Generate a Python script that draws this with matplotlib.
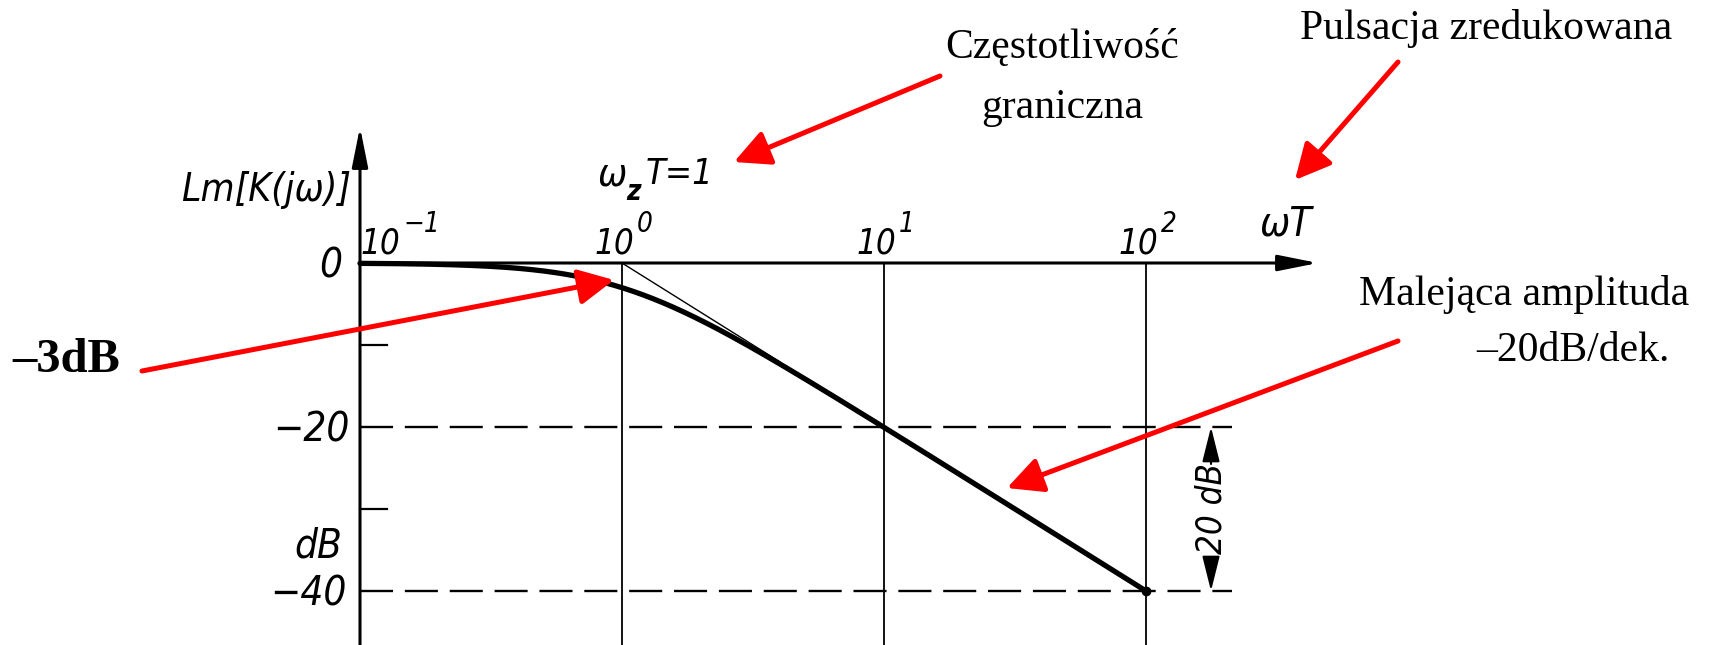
import numpy as np
import matplotlib
matplotlib.use("Agg")
import matplotlib.pyplot as plt
from matplotlib.patches import ArrowStyle

# --- data -------------------------------------------------------------
decade_exponents = [-1, 0, 1, 2]          # labelled decades of omega*T
db_levels_dashed = [-20, -40]             # dashed reference levels
db_minor_ticks = [-10, -30]               # short ticks on the Lm axis
db_labels = {0: "0", -20: "\u221220", -40: "\u221240"}
corner_wT = 1.0                           # omega_z * T = 1
wT_range = (0.1, 100.0)

W, H = 1713, 645
fig = plt.figure(figsize=(W / 100, H / 100), dpi=100)
ax = fig.add_axes([0, 0, 1, 1])
ax.set_xscale("log")
# pixel -> data mapping of the drawing: one decade = 262 px, 20 dB = 164 px
x0_px, y0_px, dec_px, db_px = 360.0, 263.0, 262.0, 8.2
ax.set_xlim(10 ** (-1 - x0_px / dec_px), 10 ** (-1 + (W - x0_px) / dec_px))
ax.set_ylim((y0_px - H) / db_px, y0_px / db_px)
ax.axis("off")

serif = "Liberation Serif"
tk = dict(family="DejaVu Sans", style="italic", stretch="condensed", color="black")


def frac(px, py):
    return (px / W, 1 - py / H)


xmin, xmax = ax.get_xlim()
ymin, ymax = ax.get_ylim()
x_left = 10.0 ** decade_exponents[0]
x_axis_end = 10 ** (-1 + (1318 - x0_px) / dec_px)
y_axis_top = (y0_px - 127) / db_px
dash_end = 10 ** (-1 + (1232 - x0_px) / dec_px)

# axes with arrows
axis_arrow = dict(arrowstyle=ArrowStyle("-|>", head_length=1.1, head_width=0.22),
                  mutation_scale=22, lw=2.2, color="black", shrinkA=0, shrinkB=0)
ax.annotate("", xy=(x_axis_end, 0), xytext=(x_left, 0), arrowprops=axis_arrow)
ax.annotate("", xy=(x_left, y_axis_top), xytext=(x_left, ymin), arrowprops=axis_arrow)

# vertical decade lines
for e in decade_exponents[1:]:
    ax.plot([10.0 ** e, 10.0 ** e], [0, ymin], color="black", lw=1.3)

# dashed levels
for lvl in db_levels_dashed:
    ax.plot([x_left, dash_end], [lvl, lvl], color="black", lw=1.7, dashes=(14, 5))

# minor ticks on the Lm axis
tick_len = 10 ** (-1 + 27 / dec_px)
for t in db_minor_ticks:
    ax.plot([x_left, tick_len], [t, t], color="black", lw=1.6)

# magnitude curve of the first-order lag
wT = np.logspace(np.log10(wT_range[0]), np.log10(wT_range[1]), 400)
Lm = -10 * np.log10(1 + wT ** 2)
ax.plot(wT, Lm, color="black", lw=3.8, solid_capstyle="round")
ax.plot([wT_range[1]], [Lm[-1]], "o", color="black", ms=6)

# asymptote near the corner
wa = np.array([corner_wT, 4.0])
ax.plot(wa, -20 * np.log10(wa / corner_wT), color="black", lw=1.0)

# decade labels 10^n
for e in decade_exponents:
    xv = 10.0 ** e
    shift = 40 if e == -1 else 12
    ax.annotate("10", xy=(xv, 0), xytext=(shift, 10), textcoords="offset pixels",
                ha="right", va="baseline", fontsize=25, **tk)
    sup = "\u2212" + str(abs(e)) if e < 0 else str(e)
    ax.annotate(sup, xy=(xv, 0), xytext=(shift + 3, 31), textcoords="offset pixels",
                ha="left", va="baseline", fontsize=20, **tk)

ax.text(*frac(1260, 236), "\u03c9T", transform=ax.transAxes, ha="left",
        va="baseline", fontsize=29, **tk)
ax.text(*frac(598, 186), "\u03c9", transform=ax.transAxes, ha="left",
        va="baseline", fontsize=28, **tk)
ax.text(*frac(626, 200), "z", transform=ax.transAxes, ha="left",
        va="baseline", fontsize=20, fontweight="bold", **tk)
ax.text(*frac(646, 184), "T=1", transform=ax.transAxes, ha="left",
        va="baseline", fontsize=26, **tk)
ax.text(*frac(266, 190), "Lm[K(j\u03c9)]", transform=ax.transAxes, ha="center",
        va="center", fontsize=28, **tk)

# dB labels
label_gap = {0: -18, -20: -10, -40: -13}
for v, s in db_labels.items():
    ax.annotate(s, xy=(x_left, v), xytext=(label_gap[v], -3), textcoords="offset pixels",
                ha="right", va="center", fontsize=29, **tk)
ax.text(*frac(318, 546), "dB", transform=ax.transAxes, ha="center",
        va="center", fontsize=29, **tk)

# 20 dB dimension
dim_x = 10 ** (-1 + (1211 - x0_px) / dec_px)
gap_top = (y0_px - 464) / db_px
gap_bot = (y0_px - 558) / db_px
dim_arrow = dict(arrowstyle=ArrowStyle("-|>", head_length=1.2, head_width=0.3),
                 mutation_scale=18, lw=1.5, color="black", shrinkA=0, shrinkB=0)
ax.annotate("", xy=(dim_x, db_levels_dashed[0]), xytext=(dim_x, gap_top), arrowprops=dim_arrow)
ax.annotate("", xy=(dim_x, db_levels_dashed[1]), xytext=(dim_x, gap_bot), arrowprops=dim_arrow)
ax.text(dim_x, (db_levels_dashed[0] + db_levels_dashed[1]) / 2, "20 dB",
        rotation=90, ha="center", va="center", fontsize=25, **tk)

# red annotations
red = "#ff0000"
rstyle = dict(arrowstyle=ArrowStyle("-|>", head_length=0.9, head_width=0.45),
              mutation_scale=24, lw=3.6, color=red, shrinkA=0, shrinkB=0)


def red_arrow(p_from, p_to):
    ax.annotate("", xy=frac(*p_to), xycoords="axes fraction",
                xytext=frac(*p_from), textcoords="axes fraction", arrowprops=rstyle)


red_arrow((940, 76), (734, 162))
red_arrow((1398, 62), (1295, 180))
red_arrow((142, 371), (614, 280))
red_arrow((1398, 341), (1007, 488))

rt = dict(transform=ax.transAxes, ha="center", va="center", fontsize=30, family=serif)
ax.text(*frac(1062, 48), "Częstotliwość", **rt)
ax.text(*frac(1062, 108), "graniczna", **rt)
ax.text(*frac(1486, 29), "Pulsacja zredukowana", **rt)
ax.text(*frac(1524, 294), "Malejąca amplituda", **rt)
ax.text(*frac(1573, 351), "\u201320dB/dek.", **rt)
ax.text(*frac(12, 360), "\u20133dB", transform=ax.transAxes, ha="left",
        va="center", fontsize=35, fontweight="bold", family=serif)

fig.savefig("out.png", dpi=100, facecolor="white")
